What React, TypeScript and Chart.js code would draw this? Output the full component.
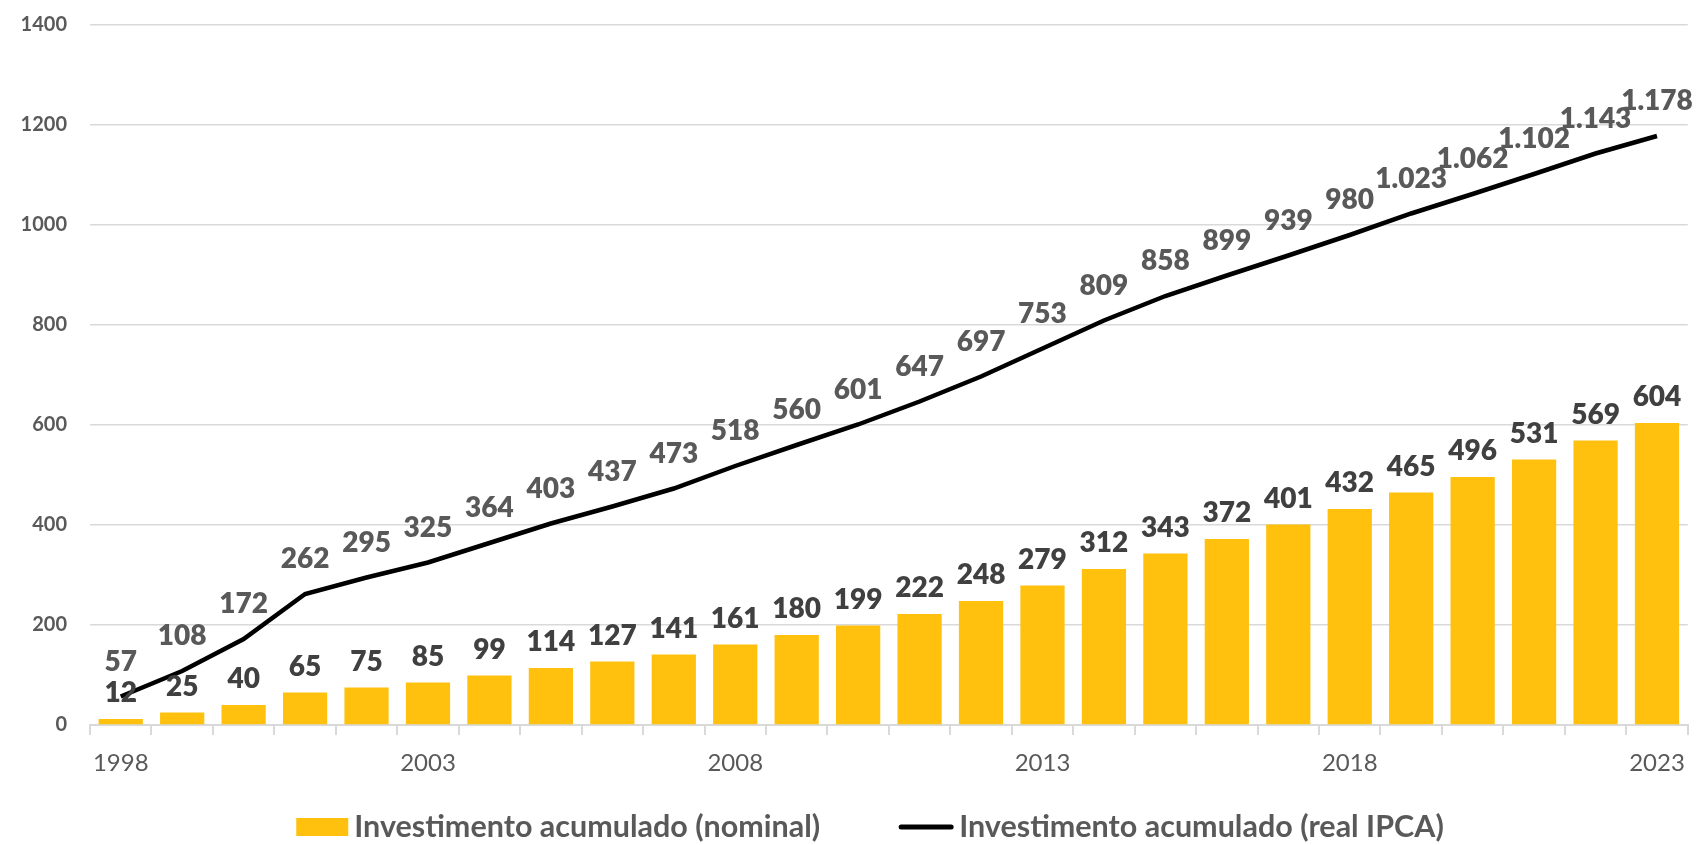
import React, { useEffect, useRef } from 'react';
import { Chart, registerables } from 'chart.js';

Chart.register(...registerables);

const years = ['1998', '1999', '2000', '2001', '2002', '2003', '2004', '2005', '2006', '2007', '2008', '2009', '2010', '2011', '2012', '2013', '2014', '2015', '2016', '2017', '2018', '2019', '2020', '2021', '2022', '2023'];
const nominal = [12, 25, 40, 65, 75, 85, 99, 114, 127, 141, 161, 180, 199, 222, 248, 279, 312, 343, 372, 401, 432, 465, 496, 531, 569, 604];
const realIpca = [57, 108, 172, 262, 295, 325, 364, 403, 437, 473, 518, 560, 601, 647, 697, 753, 809, 858, 899, 939, 980, 1023, 1062, 1102, 1143, 1178];
const shownYears = ['1998', '2003', '2008', '2013', '2018', '2023'];
const seriesNames = ['Investimento acumulado (nominal)', 'Investimento acumulado (real IPCA)'];
const yMin = 0;
const yMax = 1400;
const yStep = 200;

const FONT = 'Lato, "Open Sans", sans-serif';
const GOLD = '#FFC10E';
const GRAY = '#595959';
const GRID = '#D9D9D9';

const fmt = (n: number) => String(n).replace(/\B(?=(\d{3})+(?!\d))/g, '.');

const labelPlugin = {
  id: 'valueLabels',
  afterDatasetsDraw(chart: any) {
    const ctx = chart.ctx;
    ctx.save();
    ctx.textAlign = 'center';
    ctx.textBaseline = 'alphabetic';
    ctx.font = `800 28px ${FONT}`;
    chart.data.datasets.forEach((ds: any, di: number) => {
      const meta = chart.getDatasetMeta(di);
      const isBar = ds.type === 'bar';
      ctx.fillStyle = isBar ? '#404040' : GRAY;
      meta.data.forEach((el: any, i: number) => {
        const txt = fmt(ds.data[i]);
        const w = ctx.measureText(txt).width;
        const x = Math.min(el.x, chart.width - 3 - w / 2);
        const y = el.y - (isBar ? 17 : 26);
        ctx.fillText(txt, x, y);
      });
    });
    ctx.restore();
  },
  afterDraw(chart: any) {
    const ctx = chart.ctx;
    ctx.save();
    ctx.font = `bold 30.5px ${FONT}`;
    ctx.textBaseline = 'alphabetic';
    ctx.textAlign = 'left';
    const boxW = 52, boxH = 18, lineW = 54, gap = 6, itemGap = 79;
    const t1 = ctx.measureText(seriesNames[0]).width;
    const t2 = ctx.measureText(seriesNames[1]).width;
    const total = boxW + gap + t1 + itemGap + lineW + gap + t2;
    const cy = 827;
    let x = 870 - total / 2;
    ctx.fillStyle = GOLD;
    ctx.fillRect(x, cy - boxH / 2, boxW, boxH);
    x += boxW + gap;
    ctx.fillStyle = GRAY;
    ctx.fillText(seriesNames[0], x, cy + 10);
    x += t1 + itemGap;
    ctx.strokeStyle = '#000';
    ctx.lineWidth = 5;
    ctx.lineCap = 'round';
    ctx.beginPath();
    ctx.moveTo(x + 2, cy);
    ctx.lineTo(x + lineW - 2, cy);
    ctx.stroke();
    x += lineW + gap;
    ctx.fillText(seriesNames[1], x, cy + 10);
    ctx.restore();
  },
};

export default function App() {
  const ref = useRef<HTMLCanvasElement>(null);
  useEffect(() => {
    if (!ref.current) return;
    const chart = new Chart(ref.current, {
      data: {
        labels: years,
        datasets: [
          {
            type: 'line',
            label: seriesNames[1],
            data: realIpca,
            borderColor: '#000000',
            backgroundColor: '#000000',
            borderWidth: 4.5,
            pointRadius: 0,
            tension: 0,
            order: 0,
          } as any,
          {
            type: 'bar',
            label: seriesNames[0],
            data: nominal,
            backgroundColor: GOLD,
            borderWidth: 0,
            barPercentage: 0.72,
            categoryPercentage: 1,
            order: 1,
          } as any,
        ],
      },
      options: {
        responsive: false,
        animation: false,
        layout: { padding: { top: 25, right: 9, left: 0, bottom: 0 } },
        plugins: {
          legend: { display: false },
          tooltip: { enabled: false },
        },
        scales: {
          x: {
            offset: true,
            afterFit: (s: any) => { s.height = 120; },
            border: { display: true, color: GRID, width: 2 },
            grid: { display: true, offset: true, drawOnChartArea: false, drawTicks: true, tickLength: 10, color: GRID, lineWidth: 2 },
            ticks: {
              autoSkip: false,
              maxRotation: 0,
              padding: 14,
              color: GRAY,
              font: { family: FONT, size: 24 },
              callback: (_v: any, i: number) => (shownYears.includes(years[i]) ? years[i] : ''),
            },
          },
          y: {
            min: yMin,
            max: yMax,
            afterFit: (s: any) => { s.width = 90; s.paddingTop = 10; s.paddingBottom = 10; },
            border: { display: false },
            grid: { color: GRID, lineWidth: 1.5, drawTicks: false },
            ticks: {
              stepSize: yStep,
              padding: 23,
              color: GRAY,
              font: { family: FONT, size: 20, weight: 'bold' },
              callback: (v: any) => String(v),
            },
          },
        },
      },
      plugins: [labelPlugin],
    });
    return () => chart.destroy();
  }, []);
  return (
    <div style={{ position: 'fixed', left: 0, top: 0, width: 1699, height: 845, background: '#fff' }}>
      <canvas ref={ref} width={1699} height={845} style={{ display: 'block' }} />
    </div>
  );
}
